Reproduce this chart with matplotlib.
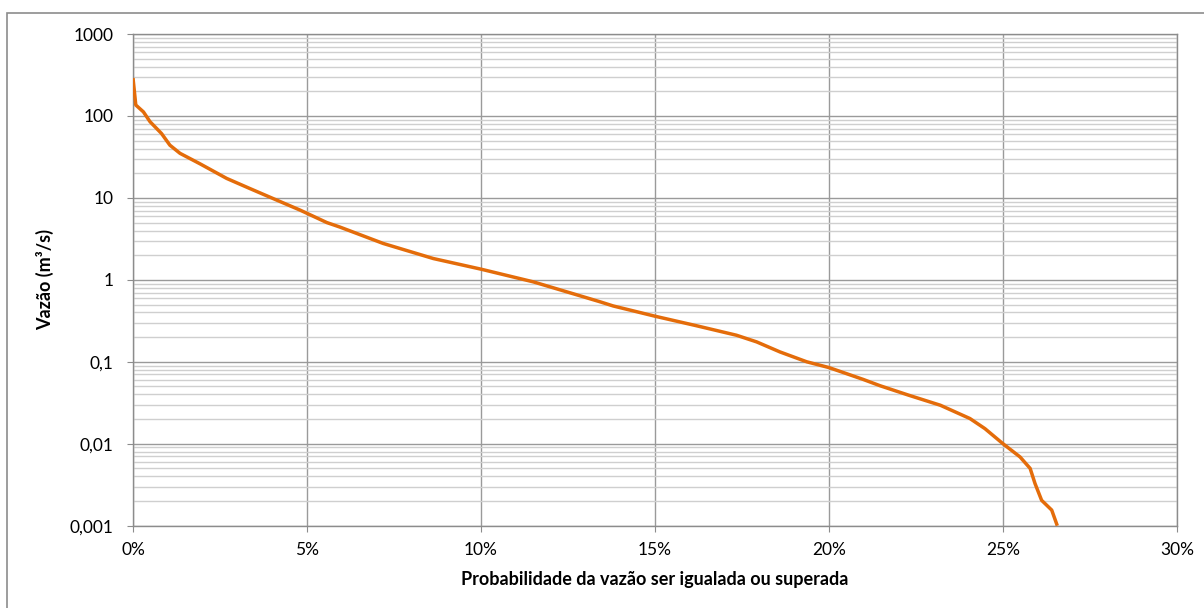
import matplotlib.pyplot as plt
from matplotlib.ticker import FixedLocator, LogLocator, NullFormatter
from matplotlib.patches import Rectangle

# Curva de permanência: probabilidade (%) x vazão (m³/s)
prob = [0.0, 0.08, 0.3, 0.49, 0.82, 1.06, 1.35, 1.93, 2.69, 3.36, 4.13,
        4.80, 5.57, 5.95, 7.19, 8.63, 10.0, 11.5, 12.84, 13.42, 13.8, 15.0,
        16.2, 17.34, 17.92, 18.59, 19.36, 20.0, 20.98, 21.47, 22.3, 23.2,
        24.05, 24.48, 25.0, 25.49, 25.78, 25.92, 26.11, 26.4, 26.56]
vazao = [290, 136, 112, 85, 61, 44, 35, 26, 17.3, 13, 9.4,
         7.1, 5.0, 4.4, 2.78, 1.82, 1.35, 0.946, 0.64, 0.54, 0.48, 0.36,
         0.275, 0.211, 0.175, 0.132, 0.1, 0.085, 0.061, 0.051, 0.039, 0.0295,
         0.0203, 0.0153, 0.01, 0.0069, 0.005, 0.00327, 0.00204, 0.00155, 0.001]

x_ticks = [0, 5, 10, 15, 20, 25, 30]
x_labels = ["0%", "5%", "10%", "15%", "20%", "25%", "30%"]
y_ticks = [0.001, 0.01, 0.1, 1, 10, 100, 1000]
y_labels = ["0,001", "0,01", "0,1", "1", "10", "100", "1000"]

plt.rcParams['font.family'] = ['Lato', 'DejaVu Sans']

fig = plt.figure(figsize=(12.04, 6.08), dpi=100)
ax = fig.add_axes([133 / 1204, 1 - 525.7 / 608, 1044 / 1204, 491.7 / 608])

# moldura externa (lados direito e inferior ficam fora da imagem)
fig.patches.append(Rectangle((7 / 1204, -0.05), 1.1, 1 - 12.7 / 608 + 0.05,
                             transform=fig.transFigure, fill=False,
                             edgecolor='#8c8c8c', linewidth=1.2))

ax.plot(prob, vazao, color='#E46C0A', linewidth=2.5,
        solid_joinstyle='round', solid_capstyle='butt', zorder=3)

ax.set_yscale('log')
ax.set_xlim(0, 30)
ax.set_ylim(0.001, 1000)

ax.xaxis.set_major_locator(FixedLocator(x_ticks))
ax.set_xticklabels(x_labels)
ax.yaxis.set_major_locator(FixedLocator(y_ticks))
ax.set_yticklabels(y_labels)
ax.yaxis.set_minor_locator(LogLocator(base=10, subs=range(2, 10)))
ax.yaxis.set_minor_formatter(NullFormatter())

ax.grid(which='major', axis='both', color='#9a9a9a', linewidth=1)
ax.grid(which='minor', axis='y', color='#cfcfcf', linewidth=1)
ax.set_axisbelow(True)

for side in ['left', 'bottom', 'top', 'right']:
    ax.spines[side].set_color('#8c8c8c')
    ax.spines[side].set_linewidth(1)

ax.tick_params(which='major', direction='out', length=4, color='#8c8c8c',
               labelsize=12.5)
ax.tick_params(axis='y', pad=10)
ax.tick_params(axis='x', pad=8)
ax.tick_params(which='minor', length=0)

ax.set_xlabel("Probabilidade da vazão ser igualada ou superada",
              fontsize=13, fontweight='bold', va='center')
ax.xaxis.set_label_coords(0.5, -0.110)
ax.set_ylabel("Vazão (m³/s)", fontsize=13, fontweight='bold', va='center')
ax.yaxis.set_label_coords(-0.0843, 0.5)

fig.savefig("out.png", dpi=100)
